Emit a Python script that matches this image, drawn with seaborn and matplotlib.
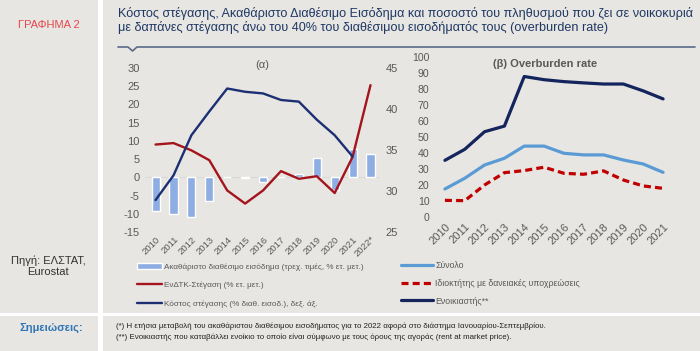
import numpy as np
import pandas as pd
import matplotlib.pyplot as plt
import seaborn as sns
from matplotlib.patches import Rectangle
from matplotlib.lines import Line2D

# ---- data ----
years_a = ['2010', '2011', '2012', '2013', '2014', '2015', '2016', '2017',
           '2018', '2019', '2020', '2021', '2022*']
income = [-9.2, -10.0, -10.9, -6.6, 0.0, -0.2, -1.4, 0.1, 0.8, 5.4, -3.6, 7.8, 6.3]
cpi_housing = [9.0, 9.4, 7.4, 4.7, -3.6, -7.2, -3.6, 1.7, -0.4, 0.3, -4.3, 5.6, 25.3]
housing_cost = [28.9, 31.9, 36.8, 39.7, 42.5, 42.1, 41.9, 41.1, 40.9, 38.7, 36.8, 34.2, np.nan]

years_b = ['2010', '2011', '2012', '2013', '2014', '2015', '2016', '2017',
           '2018', '2019', '2020', '2021']
total = [17.7, 24.4, 32.7, 36.9, 44.5, 44.5, 40.0, 39.0, 39.0, 35.8, 33.3, 28.1]
owner_loan = [10.6, 10.4, 20.2, 27.9, 29.2, 31.3, 27.5, 26.9, 29.0, 23.3, 19.6, 18.1]
tenant = [35.6, 42.5, 53.5, 57.0, 88.0, 86.0, 84.8, 84.0, 83.3, 83.3, 79.0, 74.0]

lab_income = 'Ακαθάριστο διαθέσιμο εισόδημα (τρεχ. τιμές, % ετ. μετ.)'
lab_cpi = 'ΕνΔΤΚ-Στέγαση (% ετ. μετ.)'
lab_cost = 'Κόστος στέγασης (% διαθ. εισοδ.), δεξ. άξ.'
lab_total = 'Σύνολο'
lab_owner = 'Ιδιοκτήτης με δανειακές υποχρεώσεις'
lab_tenant = 'Ενοικιαστής**'

df_a = pd.DataFrame({'pos': np.arange(len(years_a)), 'income': income,
                     'cpi': cpi_housing, 'cost': housing_cost})
df_b = pd.DataFrame({'pos': np.arange(len(years_b)), 'total': total,
                     'owner': owner_loan, 'tenant': tenant})

sns.set_style('white')
plt.rcParams['font.family'] = ['Liberation Sans', 'DejaVu Sans']
plt.rcParams['axes.unicode_minus'] = False
NARROW = ['Liberation Sans Narrow', 'Liberation Sans', 'DejaVu Sans']

W, H = 700, 351
fig = plt.figure(figsize=(7, 3.51), dpi=100, facecolor='white')
BG = '#e7e6e2'


def fx(px):
    return px / W


def fy(py):
    return 1 - py / H


# background blocks
for (x0, y0, x1, y1) in [(0, 0, 98, 313), (103, 0, 700, 313),
                         (0, 316, 98, 351), (103, 316, 700, 351)]:
    fig.patches.append(Rectangle((fx(x0), fy(y1)), fx(x1 - x0), (y1 - y0) / H,
                                 transform=fig.transFigure, facecolor=BG,
                                 edgecolor='none', zorder=-10))

# title + underline
fig.text(fx(118), fy(13), 'Κόστος στέγασης, Ακαθάριστο Διαθέσιμο Εισόδημα και ποσοστό του πληθυσμού που ζει σε νοικοκυριά',
         fontsize=9.05, color='#1f3864', va='center', ha='left')
fig.text(fx(118), fy(27), 'με δαπάνες στέγασης άνω του 40% του διαθέσιμου εισοδήματός τους (overburden rate)',
         fontsize=9.05, color='#1f3864', va='center', ha='left')
xs = [118, 128, 132.5, 137, 695]
ys = [47, 47, 51, 47, 47]
fig.lines.append(Line2D([fx(v) for v in xs], [fy(v) for v in ys],
                        transform=fig.transFigure, color='#5a6a88', lw=1.2))

# left column texts
fig.text(fx(49), fy(25), 'ΓΡΑΦΗΜΑ 2', color='#e5484d', fontsize=8, ha='center', va='center')
fig.text(fx(48), fy(266), 'Πηγή: ΕΛΣΤΑΤ,\nEurostat', color='#333333', fontsize=8,
         ha='center', va='center', linespacing=1.1)
fig.text(fx(51), fy(328), 'Σημειώσεις:', color='#2e75b6', fontsize=8, fontweight='bold',
         ha='center', va='center')

# footnotes
fig.text(fx(116), fy(326), '(*) Η ετήσια μεταβολή του ακαθάριστου διαθέσιμου εισοδήματος για το 2022 αφορά στο διάστημα Ιανουαρίου-Σεπτεμβρίου.',
         fontsize=5.7, color='#222222', va='center', family=NARROW)
fig.text(fx(116), fy(337), '(**) Ενοικιαστής που καταβάλλει ενοίκιο το οποίο είναι σύμφωνο με τους όρους της αγοράς (rent at market price).',
         fontsize=5.7, color='#222222', va='center', family=NARROW)

TXT = '#595959'

# ---- panel (a) ----
ax = fig.add_axes([fx(145), fy(232), fx(380 - 145), (232 - 68) / H])
ax.set_facecolor('none')
sns.barplot(data=df_a, x='pos', y='income', native_scale=True, width=0.45,
            color='#8eaee3', saturation=1, ax=ax, label=lab_income)
sns.lineplot(data=df_a, x='pos', y='cpi', color='#a3141c', lw=1.7, ax=ax, label=lab_cpi)
ax.axhline(0, color='#d9d9d9', lw=0.8, zorder=0)
ax.set_ylim(-15, 30)
ax.set_yticks(range(-15, 31, 5))
ax.set_xlim(-0.59, 12.53)
ax.set_xticks(df_a['pos'])
ax.set_xticklabels(years_a, rotation=45, ha='right', rotation_mode='anchor',
                   fontsize=6.8, color=TXT)
ax.tick_params(axis='y', labelsize=8, labelcolor=TXT, length=0, pad=4)
ax.tick_params(axis='x', length=0, pad=2)
ax.set_xlabel('')
ax.set_ylabel('')
ax.text(0.5, 1.02, '(α)', transform=ax.transAxes, ha='center', va='center',
        fontsize=8, color=TXT)

ax2 = ax.twinx()
ax2.set_facecolor('none')
sns.lineplot(data=df_a, x='pos', y='cost', color='#1c2f73', lw=1.7, ax=ax2, label=lab_cost)
ax2.set_ylim(25, 45)
ax2.set_yticks(range(25, 46, 5))
ax2.tick_params(axis='y', labelsize=8, labelcolor=TXT, length=0, pad=4)
ax2.set_ylabel('')
for a in (ax, ax2):
    for s in a.spines.values():
        s.set_visible(False)

h1, l1 = ax.get_legend_handles_labels()
h2, l2 = ax2.get_legend_handles_labels()
ax.get_legend().remove()
ax2.get_legend().remove()
# bar entry first, then red line, then navy line
order = [l1.index(lab_income), l1.index(lab_cpi)]
handles_a = [h1[i] for i in order] + h2
labels_a = [l1[i] for i in order] + l2
fig.legend(handles_a, labels_a, loc='upper left', bbox_to_anchor=(fx(137), fy(263)),
           frameon=False, prop={'family': NARROW, 'size': 5.9}, labelcolor=TXT,
           handlelength=3.0, handletextpad=0.3, labelspacing=1.3,
           borderaxespad=0, borderpad=0)

# ---- panel (b) ----
bx = fig.add_axes([fx(435), fy(217.3), fx(672 - 435), (217.3 - 57.3) / H])
bx.set_facecolor('none')
sns.lineplot(data=df_b, x='pos', y='total', color='#5b9bd5', lw=2.3, ax=bx, label=lab_total)
sns.lineplot(data=df_b, x='pos', y='owner', color='#c00000', lw=2.3, ax=bx,
             label=lab_owner, linestyle=(0, (2.2, 1.3)))
sns.lineplot(data=df_b, x='pos', y='tenant', color='#14245c', lw=2.3, ax=bx, label=lab_tenant)
bx.set_ylim(0, 100)
bx.set_yticks(range(0, 101, 10))
bx.set_xlim(-0.5, 11.45)
bx.set_xticks(df_b['pos'])
bx.set_xticklabels(years_b, rotation=45, ha='right', rotation_mode='anchor',
                   fontsize=8, color=TXT)
bx.tick_params(axis='y', labelsize=7.6, labelcolor=TXT, length=0, pad=4)
bx.tick_params(axis='x', length=0, pad=3)
bx.set_xlabel('')
bx.set_ylabel('')
for s in bx.spines.values():
    s.set_visible(False)
bx.text(fx(545 - 435) / fx(672 - 435), 1 - (64 - 57.3) / 160, '(β) Overburden rate',
        transform=bx.transAxes, ha='center', va='center', fontsize=8,
        fontweight='bold', color=TXT)
hb, lb = bx.get_legend_handles_labels()
bx.get_legend().remove()
fig.legend(hb, lb, loc='upper left', bbox_to_anchor=(fx(401), fy(261)),
           frameon=False, prop={'family': NARROW, 'size': 6.3}, labelcolor=TXT,
           handlelength=3.6, handletextpad=0.3, labelspacing=1.0,
           borderaxespad=0, borderpad=0)

fig.savefig('out.png', dpi=100, facecolor='white')
